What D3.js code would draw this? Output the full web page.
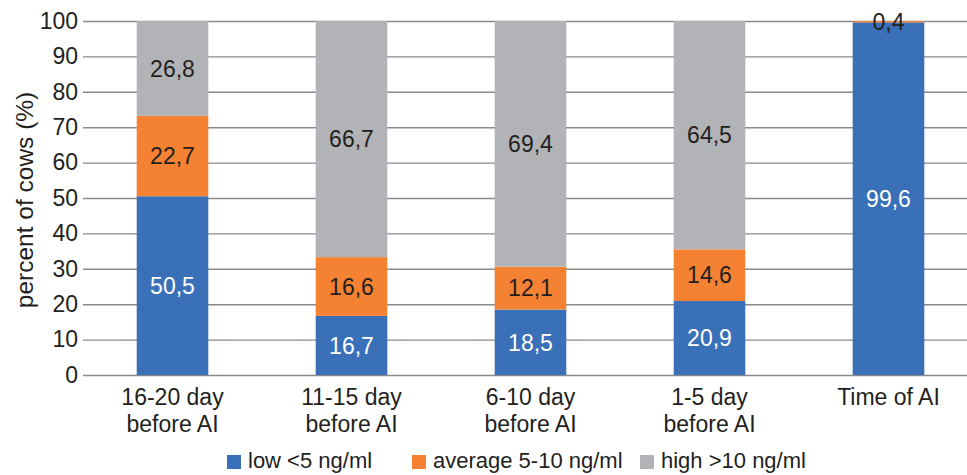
<!DOCTYPE html>
<html>
<head>
<meta charset="utf-8">
<script src="https://cdn.jsdelivr.net/npm/d3@7"></script>
<style>
  body { margin: 0; background: #fff; }
  svg text { font-family: "Liberation Sans", Arial, sans-serif; fill: #231f20; }
</style>
</head>
<body>
<svg id="chart" width="967" height="475"></svg>
<script>
// categories (two lines each) and series values
const categories = ["16-20 day\nbefore AI", "11-15 day\nbefore AI", "6-10 day\nbefore AI", "1-5 day\nbefore AI", "Time of AI"];
const lowValues = [50.5, 16.7, 18.5, 20.9, 99.6];
const averageValues = [22.7, 16.6, 12.1, 14.6, 0.4];
const highValues = [26.8, 66.7, 69.4, 64.5, 0];
const seriesNames = ["low <5 ng/ml", "average 5-10 ng/ml", "high >10 ng/ml"];
const seriesColors = ["#3a70b8", "#f58233", "#b2b3b6"];
const labelColors = ["#ffffff", "#231f20", "#231f20"];
const yTicks = [0, 10, 20, 30, 40, 50, 60, 70, 80, 90, 100];

const svg = d3.select("#chart");
const plotLeft = 83, plotRight = 978, plotTop = 21, plotBottom = 375;

const keys = ["low", "average", "high"];
const table = categories.map((c, i) => ({
  cat: c, low: lowValues[i], average: averageValues[i], high: highValues[i]
}));
const stacked = d3.stack().keys(keys)(table);

const x = d3.scaleBand().domain(categories).range([plotLeft, plotRight])
  .paddingInner(0.6).paddingOuter(0.3);
const y = d3.scaleLinear().domain([0, 100]).range([plotBottom, plotTop]);

// gridlines + y tick labels
const yAxis = svg.append("g")
  .attr("transform", `translate(${plotLeft},0)`)
  .call(d3.axisLeft(y).tickValues(yTicks).tickSize(-(967 - plotLeft)).tickPadding(5));
yAxis.select(".domain").remove();
yAxis.selectAll(".tick line").attr("stroke", "#8a8a8a").attr("stroke-width", 1.4);
yAxis.selectAll(".tick text").attr("font-size", 23).attr("fill", "#231f20")
  .style("font-family", '"Liberation Sans", Arial, sans-serif');

// bars
const layers = svg.append("g").selectAll("g")
  .data(stacked).enter().append("g")
  .attr("fill", (d, i) => seriesColors[i]);

layers.selectAll("rect")
  .data(d => d.map(v => ({ v, cat: v.data.cat })))
  .enter().append("rect")
  .attr("x", d => x(d.cat))
  .attr("width", x.bandwidth())
  .attr("y", d => y(d.v[1]))
  .attr("height", d => y(d.v[0]) - y(d.v[1]));

// data labels
stacked.forEach((layer, si) => {
  layer.forEach(v => {
    const val = v[1] - v[0];
    if (val <= 0) return;
    svg.append("text")
      .attr("x", x(v.data.cat) + x.bandwidth() / 2)
      .attr("y", (y(v[0]) + y(v[1])) / 2)
      .attr("dy", "0.36em")
      .attr("text-anchor", "middle")
      .attr("font-size", 23)
      .style("fill", labelColors[si])
      .text(d3.format(".1f")(val).replace(".", ","));
  });
});

// x category labels
categories.forEach(c => {
  const t = svg.append("text")
    .attr("x", x(c) + x.bandwidth() / 2)
    .attr("y", 405)
    .attr("text-anchor", "middle")
    .attr("font-size", 23);
  c.split("\n").forEach((line, i) => {
    t.append("tspan")
      .attr("x", x(c) + x.bandwidth() / 2)
      .attr("dy", i === 0 ? 0 : 27)
      .text(line);
  });
});

// y axis title
svg.append("text")
  .attr("transform", "translate(33,200) rotate(-90)")
  .attr("text-anchor", "middle")
  .attr("font-size", 24.5)
  .text("percent of cows (%)");

// legend
const legendX = [227, 412, 640];
seriesNames.forEach((name, i) => {
  svg.append("rect")
    .attr("x", legendX[i]).attr("y", 455)
    .attr("width", 14).attr("height", 14)
    .attr("fill", seriesColors[i]);
  svg.append("text")
    .attr("x", legendX[i] + 21).attr("y", 468)
    .attr("font-size", 22)
    .text(name);
});
</script>
</body>
</html>
